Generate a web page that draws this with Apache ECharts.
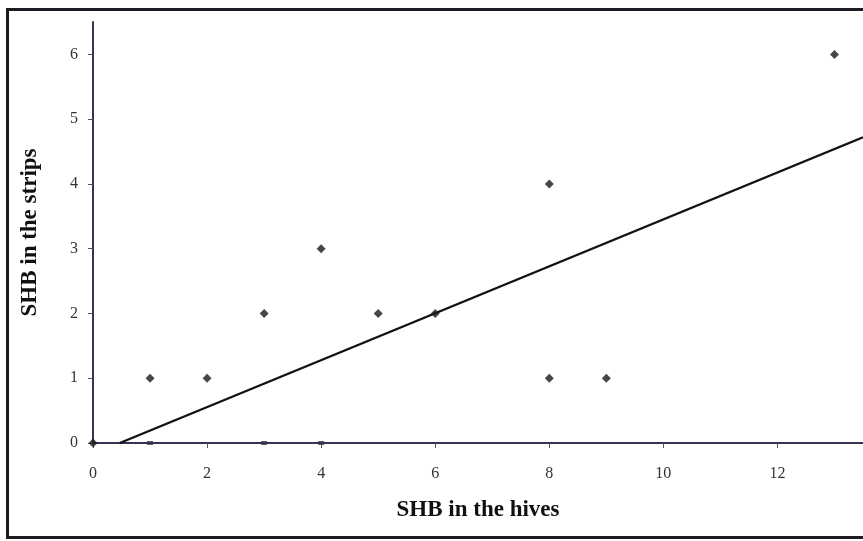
<!DOCTYPE html>
<html>
<head>
<meta charset="utf-8">
<script src="https://cdn.jsdelivr.net/npm/echarts@6/dist/echarts.min.js"></script>
<style>
  html, body { margin: 0; padding: 0; background: #fff; }
  #frame {
    position: absolute; left: 6px; top: 8px;
    width: 870px; height: 531px;
    border: 3px solid #1e1a22;
    box-sizing: border-box;
  }
  #chart { position: absolute; left: 0; top: 0; width: 863px; height: 541px; }
</style>
</head>
<body>
<div id="frame"></div>
<div id="chart"></div>
<script>
// observed points (SHB in the hives, SHB in the strips)
const hives  = [0, 1, 2, 3, 4, 5, 6, 8, 8, 9, 13]
const strips = [0, 1, 1, 2, 3, 2, 2, 4, 1, 1, 6]

// points sitting on the x axis, mostly hidden by the axis line
const hivesOnAxis = [1, 3, 4]
const stripsOnAxis = [0, 0, 0]

// linear trend line, endpoints
const trendX = [0.47, 13.5]
const trendY = [0, 4.72]

const xTicks = [0, 2, 4, 6, 8, 10, 12]
const yTicks = [0, 1, 2, 3, 4, 5, 6]

const axisColor = '#3a3150'
const serif = '"Liberation Serif", "DejaVu Serif", serif'

const chart = echarts.init(document.getElementById('chart'))

chart.setOption({
  animation: false,
  grid: { left: 93, right: 0, top: 22, bottom: 98 },
  xAxis: {
    type: 'value',
    min: 0,
    max: 13.5,
    name: 'SHB in the hives',
    nameLocation: 'middle',
    nameGap: 56,
    nameTextStyle: { fontFamily: serif, fontWeight: 'bold', fontSize: 23, color: '#111' },
    axisLine: { lineStyle: { color: axisColor, width: 2 } },
    axisTick: { length: 5, lineStyle: { color: '#555' }, customValues: xTicks },
    axisLabel: { fontFamily: serif, fontSize: 16, color: '#333', margin: 23, customValues: xTicks },
    splitLine: { show: false },
  },
  yAxis: {
    type: 'value',
    min: 0,
    max: 6.5,
    name: 'SHB in the strips',
    nameLocation: 'middle',
    nameGap: 51,
    nameTextStyle: { fontFamily: serif, fontWeight: 'bold', fontSize: 23, color: '#111' },
    axisLine: { show: true, lineStyle: { color: axisColor, width: 2 } },
    axisTick: { show: true, length: 5, lineStyle: { color: '#555' }, customValues: yTicks },
    axisLabel: { fontFamily: serif, fontSize: 16, color: '#333', margin: 15, customValues: yTicks },
    splitLine: { show: false },
  },
  series: [
    {
      type: 'line',
      data: trendX.map((x, i) => [x, trendY[i]]),
      symbol: 'none',
      lineStyle: { color: '#111', width: 2.4 },
      z: 2,
    },
    {
      type: 'scatter',
      data: hivesOnAxis.map((x, i) => [x, stripsOnAxis[i]]),
      symbol: 'rect',
      symbolSize: [6, 4],
      itemStyle: { color: axisColor },
      z: 1,
    },
    {
      type: 'scatter',
      data: hives.map((x, i) => [x, strips[i]]),
      symbol: 'diamond',
      symbolSize: 9,
      itemStyle: { color: '#1a181e' },
      z: 3,
    },
  ],
})
</script>
</body>
</html>
